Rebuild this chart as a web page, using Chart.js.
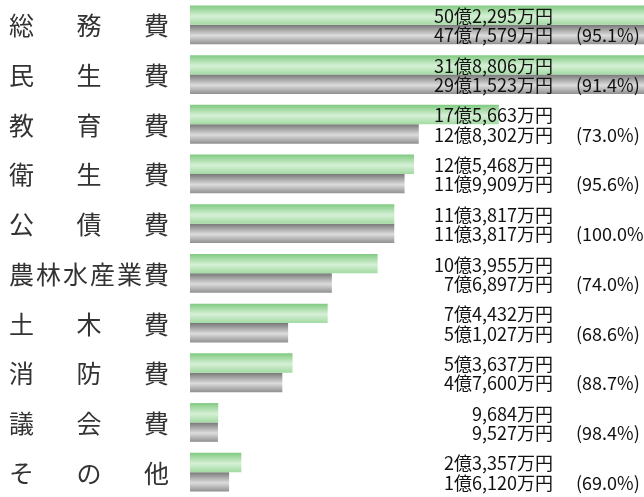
<!DOCTYPE html>
<html>
<head>
<meta charset="utf-8">
<script src="https://cdn.jsdelivr.net/npm/chart.js@4/dist/chart.umd.min.js"></script>
<style>
  body { margin: 0; background: #fff; }
  #wrap { width: 644px; height: 497px; position: relative; }
</style>
</head>
<body>
<div id="wrap"><canvas id="chart"></canvas></div>
<script>
// 金額は万円単位
const categories = ["総務費", "民生費", "教育費", "衛生費", "公債費", "農林水産業費", "土木費", "消防費", "議会費", "その他"];
const budget = [502295, 318806, 175663, 125468, 113817, 103955, 74432, 53637, 9684, 23357];
const actual = [477579, 291523, 128302, 119909, 113817, 76897, 51027, 47600, 9527, 16120];
const percent = ["95.1", "91.4", "73.0", "95.6", "100.0", "74.0", "68.6", "88.7", "98.4", "69.0"];

const CAT_PCT = 0.78;

function fmtYen(v) {
  const oku = Math.floor(v / 10000);
  const man = (v % 10000).toLocaleString("en-US");
  return (oku > 0 ? oku + "億" : "") + man + "万円";
}

function barHalf(chart) {
  const a = chart.chartArea;
  return (a.bottom - a.top) / categories.length * CAT_PCT / 2;
}

function barGradient(stops, upper) {
  return (ctx) => {
    const chart = ctx.chart;
    if (!chart.chartArea) return stops[1];
    const y = chart.scales.y.getPixelForValue(ctx.dataIndex);
    const h = barHalf(chart);
    const top = upper ? y - h : y;
    const g = chart.ctx.createLinearGradient(0, top, 0, top + h);
    g.addColorStop(0, stops[0]);
    g.addColorStop(0.55, stops[1]);
    g.addColorStop(1, stops[2]);
    return g;
  };
}

// 左側の科目名(均等割り付け)と右側の金額
const labelPlugin = {
  id: "labels",
  afterDatasetsDraw(chart) {
    const ctx = chart.ctx;
    const y = chart.scales.y;
    const h = barHalf(chart);
    ctx.save();
    ctx.fillStyle = "#111";
    ctx.font = "18px 'Noto Sans CJK JP'";
    ctx.textBaseline = "middle";
    categories.forEach((c, i) => {
      const cy = y.getPixelForValue(i);
      ctx.textAlign = "right";
      ctx.fillText(fmtYen(budget[i]), 553, cy - h / 2 + 1);
      ctx.fillText(fmtYen(actual[i]), 553, cy + h / 2 + 1);
      ctx.textAlign = "left";
      ctx.fillText("(" + percent[i] + "%)", 576, cy + h / 2 + 1);
    });
    ctx.restore();
  },
  afterDraw(chart) {
    const ctx = chart.ctx;
    const y = chart.scales.y;
    ctx.save();
    ctx.fillStyle = "#333";
    ctx.font = "25px 'Noto Sans CJK JP'";
    ctx.textBaseline = "middle";
    ctx.textAlign = "left";
    const L = 9, R = 169;
    categories.forEach((c, i) => {
      const chars = [...c];
      const cy = y.getPixelForValue(i) + 1;
      const w = ctx.measureText(chars[chars.length - 1]).width;
      const step = (R - L - w) / (chars.length - 1);
      chars.forEach((ch, j) => ctx.fillText(ch, L + j * step, cy));
    });
    ctx.restore();
  }
};

new Chart(document.getElementById("chart"), {
  type: "bar",
  data: {
    labels: categories,
    datasets: [
      {
        label: "予算額",
        data: budget,
        base: -7000,
        backgroundColor: barGradient(["#80ca80", "#d6f0d6", "#a2daa2"], true)
      },
      {
        label: "決算額",
        data: actual,
        base: -7000,
        backgroundColor: barGradient(["#777777", "#dcdcdc", "#909090"], false)
      }
    ]
  },
  options: {
    indexAxis: "y",
    responsive: true,
    maintainAspectRatio: false,
    animation: false,
    categoryPercentage: CAT_PCT,
    barPercentage: 1,
    layout: { padding: { left: 190, right: 0, top: -3, bottom: 0 } },
    plugins: {
      legend: { display: false },
      tooltip: { enabled: false }
    },
    scales: {
      x: { display: false, min: -7000, max: 261500 },
      y: { display: false }
    }
  },
  plugins: [labelPlugin]
});
</script>
</body>
</html>
